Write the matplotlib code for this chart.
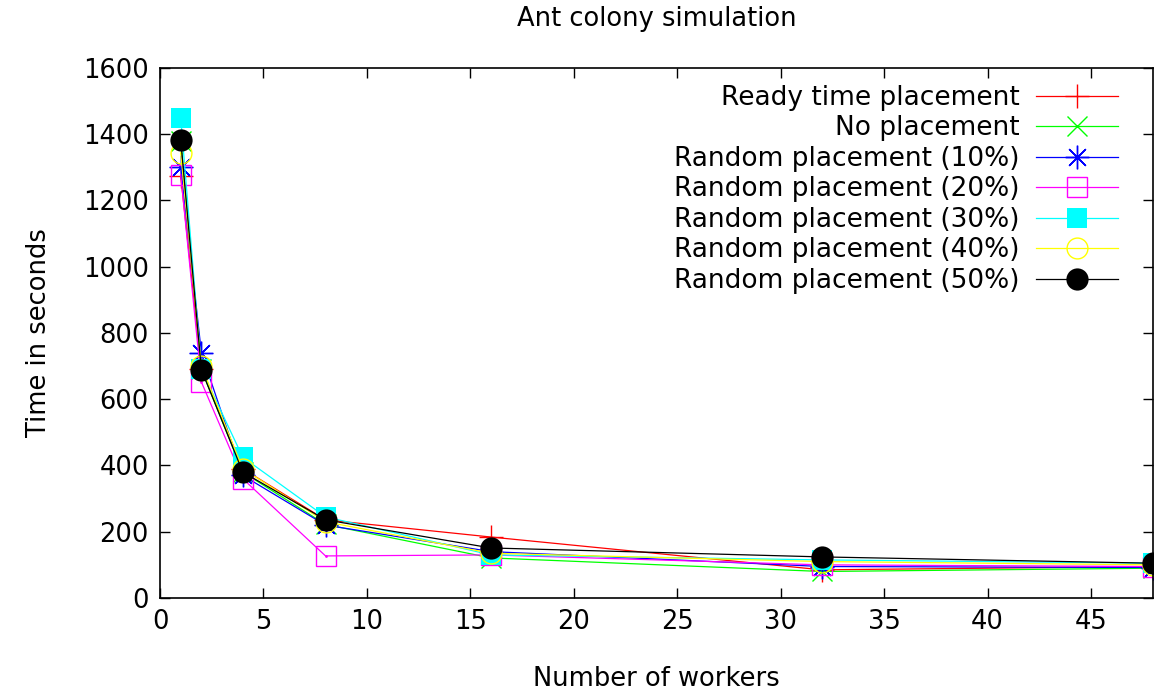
import matplotlib.pyplot as plt

workers = [1, 2, 4, 8, 16, 32, 48]

labels = ['Ready time placement', 'No placement', 'Random placement (10%)',
          'Random placement (20%)', 'Random placement (30%)',
          'Random placement (40%)', 'Random placement (50%)']

ready_time = [1275, 690, 390, 236, 184, 85, 95]
no_place = [1380, 690, 380, 222, 121, 80, 90]
rand_10 = [1302, 740, 370, 220, 140, 95, 92]
rand_20 = [1278, 652, 360, 127, 130, 100, 95]
rand_30 = [1450, 690, 425, 245, 130, 115, 105]
rand_40 = [1344, 700, 390, 230, 135, 110, 100]
rand_50 = [1383, 689, 380, 236, 151, 124, 105]

series = [ready_time, no_place, rand_10, rand_20, rand_30, rand_40, rand_50]
colors = ['#ff0000', '#00ff00', '#0000ff', '#ff00ff', '#00ffff', '#ffff00', '#000000']
# gnuplot-ish point types
styles = [
    dict(marker='+', ms=17, mew=1),
    dict(marker='x', ms=15, mew=1),
    dict(marker=(8, 2, 0), ms=17, mew=1),
    dict(marker='s', ms=14, mew=1, mfc='none'),
    dict(marker='s', ms=14, mew=0),
    dict(marker='o', ms=15, mew=1, mfc='none'),
    dict(marker='o', ms=16, mew=0),
]

plt.rcParams['font.family'] = 'DejaVu Sans'
fs = 18.5

fig = plt.figure(figsize=(11.63, 6.91), dpi=100)
ax = fig.add_axes([0.1376, 0.1346, 0.8538, 0.767])

# small center dots like gnuplot's open point types (kept underneath)
for vals, col in zip([rand_20, rand_40], ['#ff00ff', '#ffff00']):
    ax.plot(workers, vals, ls='none', marker='.', ms=2, color=col, zorder=1)

for vals, lab, col, st in zip(series, labels, colors, styles):
    ax.plot(workers, vals, color=col, lw=0.9, label=lab, zorder=2, **st)

ax.set_xlim(0, 48)
ax.set_ylim(0, 1600)
ax.set_xticks(range(0, 50, 5))
ax.set_yticks(range(0, 1601, 200))
ax.tick_params(direction='in', top=True, right=True, length=7, width=1, labelsize=fs, pad=8)
for s in ax.spines.values():
    s.set_linewidth(1.2)

ax.set_title('Ant colony simulation', fontsize=fs, pad=30)
ax.set_xlabel('Number of workers', fontsize=fs, labelpad=22)
ax.set_ylabel('Time in seconds', fontsize=fs, labelpad=22)

ax.legend(loc='upper right', frameon=False, markerfirst=False, alignment='right',
          handlelength=3.1, handletextpad=0.6, fontsize=19, labelspacing=0.17,
          borderaxespad=0.0, bbox_to_anchor=(0.975, 0.988))

fig.savefig('out.png', dpi=100)
